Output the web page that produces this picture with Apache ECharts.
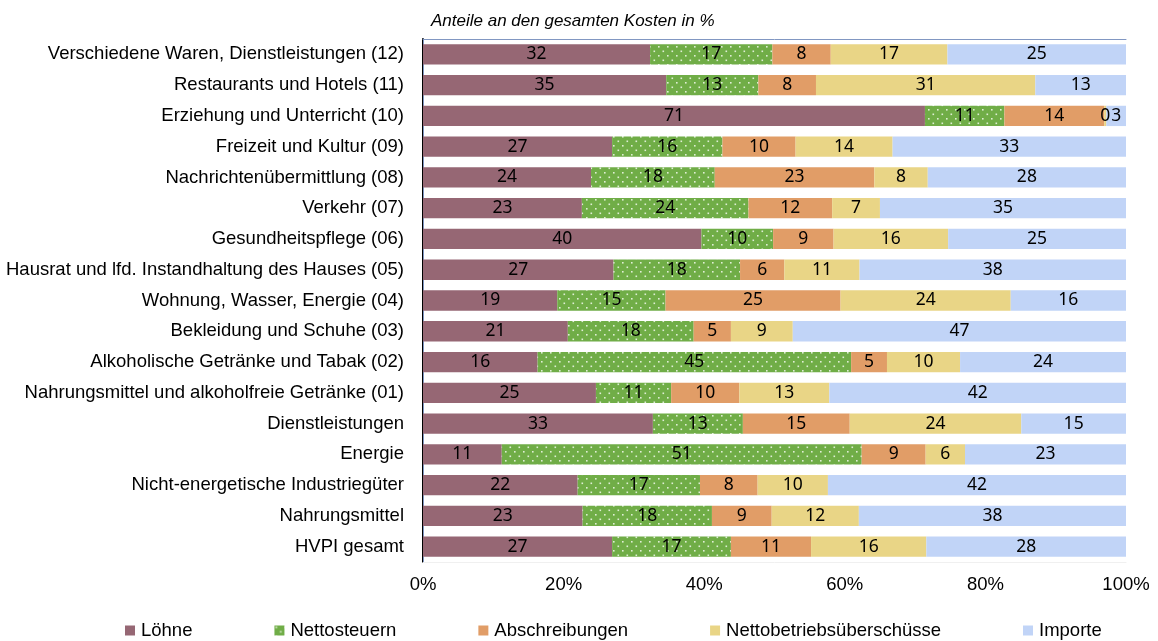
<!DOCTYPE html>
<html>
<head>
<meta charset="utf-8">
<script src="https://cdn.jsdelivr.net/npm/echarts@6/dist/echarts.min.js"></script>
<style>
html,body{margin:0;padding:0;background:#fff;}
#chart{width:1158px;height:641px;}
</style>
</head>
<body>
<div id="chart"></div>
<script>
const categories = [
  'Verschiedene Waren, Dienstleistungen (12)',
  'Restaurants und Hotels (11)',
  'Erziehung und Unterricht (10)',
  'Freizeit und Kultur (09)',
  'Nachrichtenübermittlung (08)',
  'Verkehr (07)',
  'Gesundheitspflege (06)',
  'Hausrat und lfd. Instandhaltung des Hauses (05)',
  'Wohnung, Wasser, Energie (04)',
  'Bekleidung und Schuhe (03)',
  'Alkoholische Getränke und Tabak (02)',
  'Nahrungsmittel und alkoholfreie Getränke (01)',
  'Dienstleistungen',
  'Energie',
  'Nicht-energetische Industriegüter',
  'Nahrungsmittel',
  'HVPI gesamt'
];
const loehne          = [32.3, 34.6, 71.4, 26.9, 23.9, 22.6, 39.6, 27.1, 19.1, 20.6, 16.3, 24.6, 32.7, 11.2, 22.0, 22.7, 26.9];
const nettosteuern    = [17.4, 13.1, 11.3, 15.7, 17.6, 23.7, 10.2, 18.0, 15.4, 17.9, 44.6, 10.7, 12.8, 51.2, 17.4, 18.4, 16.9];
const abschreibungen  = [ 8.3,  8.2, 14.2, 10.4, 22.7, 11.9,  8.6,  6.3, 24.9,  5.3,  5.1,  9.7, 15.2,  9.1,  8.2,  8.5, 11.4];
const nettobetrieb    = [16.6, 31.2,  0.3, 13.8,  7.6,  6.8, 16.3, 10.7, 24.2,  8.8, 10.4, 12.8, 24.4,  5.6, 10.0, 12.4, 16.4];
const importe         = [25.4, 12.9,  2.8, 33.2, 28.2, 35.0, 25.3, 37.9, 16.4, 47.4, 23.6, 42.2, 14.9, 22.9, 42.4, 38.0, 28.4];
const seriesNames = ['Löhne', 'Nettosteuern', 'Abschreibungen', 'Nettobetriebsüberschüsse', 'Importe'];
const xTicks = [0, 20, 40, 60, 80, 100];
const titleText = 'Anteile an den gesamten Kosten in %';

function dotPattern() {
  const c = document.createElement('canvas');
  c.width = 9; c.height = 9;
  const ctx = c.getContext('2d');
  ctx.fillStyle = '#70ad47';
  ctx.fillRect(0, 0, 9, 9);
  ctx.fillStyle = 'rgba(235,245,228,0.9)';
  ctx.fillRect(1, 1, 1.6, 1.6);
  ctx.fillRect(5.5, 5.5, 1.6, 1.6);
  return { image: c, repeat: 'repeat' };
}

const colors = ['#966774', dotPattern(), '#e19d67', '#e9d586', '#c1d4f7'];
const dataSets = [loehne, nettosteuern, abschreibungen, nettobetrieb, importe];

const chart = echarts.init(document.getElementById('chart'), null, {renderer: 'canvas'});
const labelFont = 'Liberation Sans, Arial, sans-serif';

chart.setOption({
  animation: false,
  backgroundColor: '#fff',
  title: {
    text: titleText,
    left: 426, top: 8,
    textStyle: {fontFamily: labelFont, fontSize: 17, fontStyle: 'italic', fontWeight: 'normal', color: '#000'}
  },
  legend: {
    left: 120, top: 616,
    itemWidth: 10, itemHeight: 10, itemGap: 82,
    icon: 'rect',
    textStyle: {fontFamily: labelFont, fontSize: 18.5, color: '#000', padding: [0, 0, 0, 1]},
    data: seriesNames
  },
  grid: {left: 423, right: 32, top: 39, bottom: 79, containLabel: false},
  xAxis: [{
    type: 'value', min: xTicks[0], max: xTicks[xTicks.length - 1], interval: 20,
    axisLine: {show: true, lineStyle: {color: '#f0f0f0', width: 1}},
    axisTick: {show: false},
    splitLine: {show: false},
    axisLabel: {formatter: '{value}%', color: '#000', fontFamily: labelFont, fontSize: 18.5, margin: 13}
  }, {
    type: 'value', position: 'top', min: 0, max: 100,
    axisLine: {show: true, lineStyle: {color: '#8197c2', width: 1}},
    axisTick: {show: false}, axisLabel: {show: false}, splitLine: {show: false}
  }],
  yAxis: [{
    type: 'category', data: categories, inverse: true,
    axisLine: {show: true, lineStyle: {color: '#000', width: 2}},
    axisTick: {show: false},
    axisLabel: {color: '#000', fontFamily: labelFont, fontSize: 18.5, margin: 19}
  }, {
    type: 'category', data: categories, inverse: true, position: 'right',
    axisLine: {show: true, lineStyle: {color: '#8197c2', width: 1}},
    axisTick: {show: false}, axisLabel: {show: false}
  }],
  series: seriesNames.map((name, i) => ({
    name: name,
    type: 'bar',
    stack: 'total',
    barCategoryGap: '34%',
    data: dataSets[i],
    itemStyle: {color: colors[i]},
    label: {
      show: true, position: 'inside',
      color: '#000', fontFamily: 'Noto Sans, sans-serif', fontSize: 17.5,
      formatter: p => String(Math.round(p.value))
    }
  }))
});
</script>
</body>
</html>
